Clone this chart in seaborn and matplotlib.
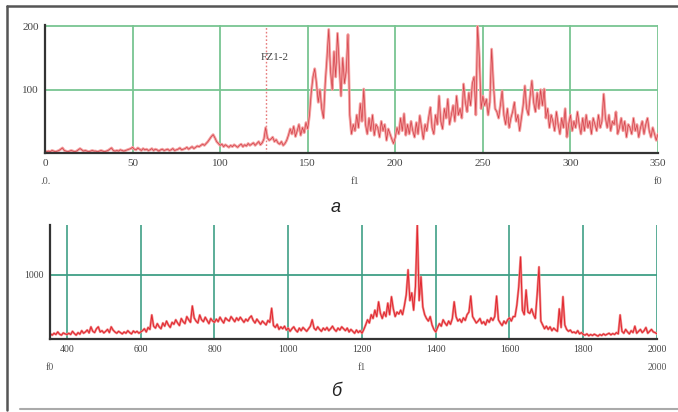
import numpy as np
import pandas as pd
import matplotlib
matplotlib.use("Agg")
import matplotlib.pyplot as plt
from matplotlib.lines import Line2D
import seaborn as sns

# ---------------- data ----------------
# panel a: amplitude vs frequency 0..350 (step 1)
freq_a_start, freq_a_stop, freq_a_step = 0, 350, 1
amp_a = [
    3, 2, 3, 2, 4, 3, 2, 3, 4, 6,
    8, 4, 3, 2, 3, 4, 3, 2, 3, 5,
    7, 5, 3, 4, 3, 2, 3, 4, 3, 3,
    2, 3, 4, 3, 2, 3, 4, 6, 8, 4,
    3, 4, 3, 5, 4, 3, 4, 5, 6, 7,
    9, 6, 5, 8, 6, 4, 7, 5, 6, 4,
    5, 7, 4, 6, 5, 3, 5, 6, 4, 5,
    6, 4, 5, 7, 4, 5, 6, 8, 5, 6,
    7, 9, 6, 8, 10, 7, 9, 11, 10, 12,
    14, 12, 15, 18, 22, 26, 29, 24, 18, 15,
    12, 14, 10, 13, 11, 9, 12, 10, 13, 11,
    9, 12, 14, 10, 13, 11, 15, 12, 14, 16,
    12, 15, 18, 13, 16, 22, 40, 24, 20, 22,
    25, 18, 21, 16, 14, 18, 12, 15, 20, 28,
    38, 30, 42, 26, 35, 45, 28, 40, 32, 48,
    38, 60, 95, 120, 133, 110, 80, 100, 70, 55,
    110, 150, 195, 130, 100, 160, 120, 189, 140, 90,
    150, 110, 130, 187, 60, 30, 45, 35, 60, 40,
    78, 50, 101, 45, 30, 55, 35, 60, 28, 45,
    40, 25, 50, 35, 45, 20, 38, 30, 22, 15,
    25, 40, 30, 55, 35, 62, 28, 45, 30, 50,
    35, 25, 48, 30, 59, 40, 22, 45, 35, 55,
    72, 40, 30, 60, 45, 90, 50, 38, 70, 55,
    85, 45, 60, 75, 50, 90, 60, 70, 55, 109,
    80, 65, 95, 75, 110, 120, 60, 200, 150, 70,
    90, 75, 85, 60, 80, 164, 110, 70, 65, 55,
    75, 98, 60, 45, 70, 40, 55, 65, 80, 50,
    60, 35, 55, 75, 106, 70, 60, 90, 114, 80,
    65, 95, 70, 100, 75, 101, 55, 70, 40, 60,
    50, 35, 65, 45, 30, 55, 40, 70, 25, 45,
    60, 35, 50, 40, 65, 45, 30, 55, 35, 60,
    40, 50, 30, 55, 45, 35, 60, 40, 50, 93,
    55, 40, 60, 35, 50, 45, 65, 30, 40, 55,
    35, 50, 25, 45, 40, 30, 55, 35, 45, 25,
    40, 50, 30, 45, 55, 35, 25, 40, 30, 20,
    30,
]
fz_label = "FZ1-2"
fz_freq = 126
xticks_a = [0, 50, 100, 150, 200, 250, 300, 350]
yticks_a = [100, 200]

# panel б: amplitude vs frequency 355..2000 (step 5)
freq_b_start, freq_b_stop, freq_b_step = 355, 2000, 5
amp_b = [
    80, 60, 90, 70, 110, 75, 60, 95, 80, 70,
    90, 70, 120, 85, 60, 100, 75, 130, 90, 110,
    140, 95, 190, 120, 100, 160, 190, 110, 130, 95,
    120, 150, 100, 190, 140, 110, 90, 120, 100, 80,
    110, 90, 130, 100, 80, 125, 100, 120, 90, 110,
    130, 160, 110, 180, 150, 375, 200, 170, 240, 190,
    160, 250, 200, 280, 220, 180, 260, 230, 300, 250,
    210, 320, 270, 240, 350, 300, 260, 515, 330, 280,
    250, 375, 300, 270, 340, 290, 240, 320, 280, 260,
    310, 270, 340, 290, 250, 330, 300, 280, 350, 310,
    270, 330, 290, 340, 300, 260, 310, 280, 330, 360,
    290, 250, 310, 270, 230, 280, 250, 220, 290, 260,
    480, 210, 180, 230, 150, 190, 160, 200, 140, 170,
    120, 160, 190, 140, 110, 170, 130, 180, 150, 120,
    160, 200, 300, 170, 140, 190, 150, 120, 170, 140,
    180, 130, 160, 200, 150, 120, 170, 140, 190, 160,
    130, 170, 110, 150, 120, 90, 140, 100, 130, 90,
    150, 220, 300, 250, 380, 320, 450, 350, 580, 400,
    320, 420, 350, 560, 380, 660, 470, 350, 420, 390,
    450, 380, 520, 690, 1080, 600, 720, 450, 820, 1780,
    600, 970, 500, 380, 320, 280, 350, 220, 150, 110,
    180, 240, 200, 300, 250, 210, 280, 230, 320, 580,
    350, 280, 310, 260, 330, 290, 380, 420, 670, 350,
    300, 250, 280, 320, 240, 270, 220, 300, 260, 330,
    290, 350, 670, 300, 250, 210, 280, 240, 300, 330,
    280, 350, 350, 530, 810, 1280, 450, 380, 765, 420,
    400, 470, 380, 320, 690, 1125, 280, 220, 160, 200,
    150, 190, 130, 170, 140, 120, 470, 180, 660, 220,
    150, 120, 140, 100, 110, 90, 130, 80, 100, 70,
    60, 80, 50, 70, 55, 75, 60, 45, 70, 55,
    80, 60, 75, 90, 65, 85, 70, 100, 80, 375,
    120, 90, 150, 110, 80, 130, 100, 200, 90, 120,
    150, 100, 130, 180, 90, 120, 150, 110, 100, 80,
]
xticks_b = [400, 600, 800, 1000, 1200, 1400, 1600, 1800, 2000]
yticks_b = [1000]

freq_a = np.arange(freq_a_start, freq_a_stop + 1, freq_a_step)
freq_b = np.arange(freq_b_start, freq_b_stop + 1, freq_b_step)
df_a = pd.DataFrame({"f": freq_a, "amp": amp_a})
df_b = pd.DataFrame({"f": freq_b, "amp": amp_b})

# ---------------- style ----------------
sns.set_style("white")
plt.rcParams["font.family"] = ["Liberation Serif", "DejaVu Serif"]

W, H = 678, 412
fig = plt.figure(figsize=(W / 100, H / 100), dpi=100)
fig.patch.set_facecolor("white")


def px_rect(l, t, r, b):
    return [l / W, 1 - b / H, (r - l) / W, (b - t) / H]


def fig_txt(x, y, s, **kw):
    fig.text(x / W, 1 - y / H, s, ha="center", va="center", **kw)


grid_a = "#78c592"
grid_b = "#3f9f86"
axis_col = "#333333"

# ---- panel a ----
ax1 = fig.add_axes(px_rect(45, 25, 658, 153))
sns.lineplot(data=df_a, x="f", y="amp", ax=ax1, color="#f4a3a3", lw=2.0)
sns.lineplot(data=df_a, x="f", y="amp", ax=ax1, color="#c81e2a", lw=0.5, alpha=0.75)
ax1.axvline(fz_freq, color="#e67a7a", lw=1.0, ls=(0, (1.2, 1.5)), ymax=0.99, zorder=1)
ax1.set_xlim(0, 350)
ax1.set_ylim(0, 202)
for v in xticks_a[1:]:
    ax1.axvline(v, color=grid_a, lw=1.3, zorder=0)
for v in yticks_a:
    ax1.axhline(v, color=grid_a, lw=1.3, zorder=0)
ax1.text(fz_freq + 5, 150, fz_label, ha="center", va="center", fontsize=8, color="#444444")
ax1.set_xticks(xticks_a)
ax1.set_xticklabels([str(v) for v in xticks_a])
ax1.set_yticks(yticks_a)
ax1.set_yticklabels([str(v) for v in yticks_a])

# ---- panel б ----
ax2 = fig.add_axes(px_rect(50, 225, 657, 339))
sns.lineplot(data=df_b, x="f", y="amp", ax=ax2, color="#f08c8c", lw=1.7)
sns.lineplot(data=df_b, x="f", y="amp", ax=ax2, color="#e01b24", lw=0.7, alpha=0.9)
ax2.set_xlim(354, 2000)
ax2.set_ylim(0, 1780)
for v in xticks_b:
    ax2.axvline(v, color=grid_b, lw=1.2, zorder=0)
for v in yticks_b:
    ax2.axhline(v, color=grid_b, lw=1.3, zorder=0)
ax2.set_xticks(xticks_b)
ax2.set_xticklabels([str(v) for v in xticks_b])
ax2.set_yticks(yticks_b)
ax2.set_yticklabels([str(v) for v in yticks_b])

for ax, fs in ((ax1, 8), (ax2, 7)):
    ax.set_xlabel("")
    ax.set_ylabel("")
    ax.set_facecolor("white")
    for s in ("top", "right"):
        ax.spines[s].set_visible(False)
    for s in ("left", "bottom"):
        ax.spines[s].set_color(axis_col)
        ax.spines[s].set_linewidth(1.6)
    ax.tick_params(axis="both", direction="inout", length=5, width=1.2,
                   color=axis_col, labelsize=fs, labelcolor="#444444", pad=2)
    ax.grid(False)

# labels under axes
fig_txt(45, 182, ".0.", fontsize=7.5, color="#555555")
fig_txt(355, 182, "f1", fontsize=7.5, color="#555555")
fig_txt(658, 182, "f0", fontsize=7.5, color="#555555")
fig_txt(50, 368, "f0", fontsize=7, color="#555555")
fig_txt(362, 368, "f1", fontsize=7, color="#555555")
fig_txt(657, 368, "2000", fontsize=7, color="#555555")

fig_txt(336, 207, "а", fontsize=13, style="italic", color="#222222",
        family=["Liberation Sans", "DejaVu Sans"])
fig_txt(336, 392, "б", fontsize=13, style="italic", color="#222222",
        family=["Liberation Sans", "DejaVu Sans"])

# frame
fig.add_artist(Line2D([7 / W, 1.0], [1 - 6 / H, 1 - 6 / H], color="#555555", lw=1.8))
fig.add_artist(Line2D([7 / W, 7 / W], [1 - 6 / H, 1 - 410 / H], color="#555555", lw=1.8))
fig.add_artist(Line2D([20 / W, 1.0], [1 - 409 / H, 1 - 409 / H], color="#aaaaaa", lw=1.5))

fig.savefig("out.png", dpi=100, facecolor="white")
